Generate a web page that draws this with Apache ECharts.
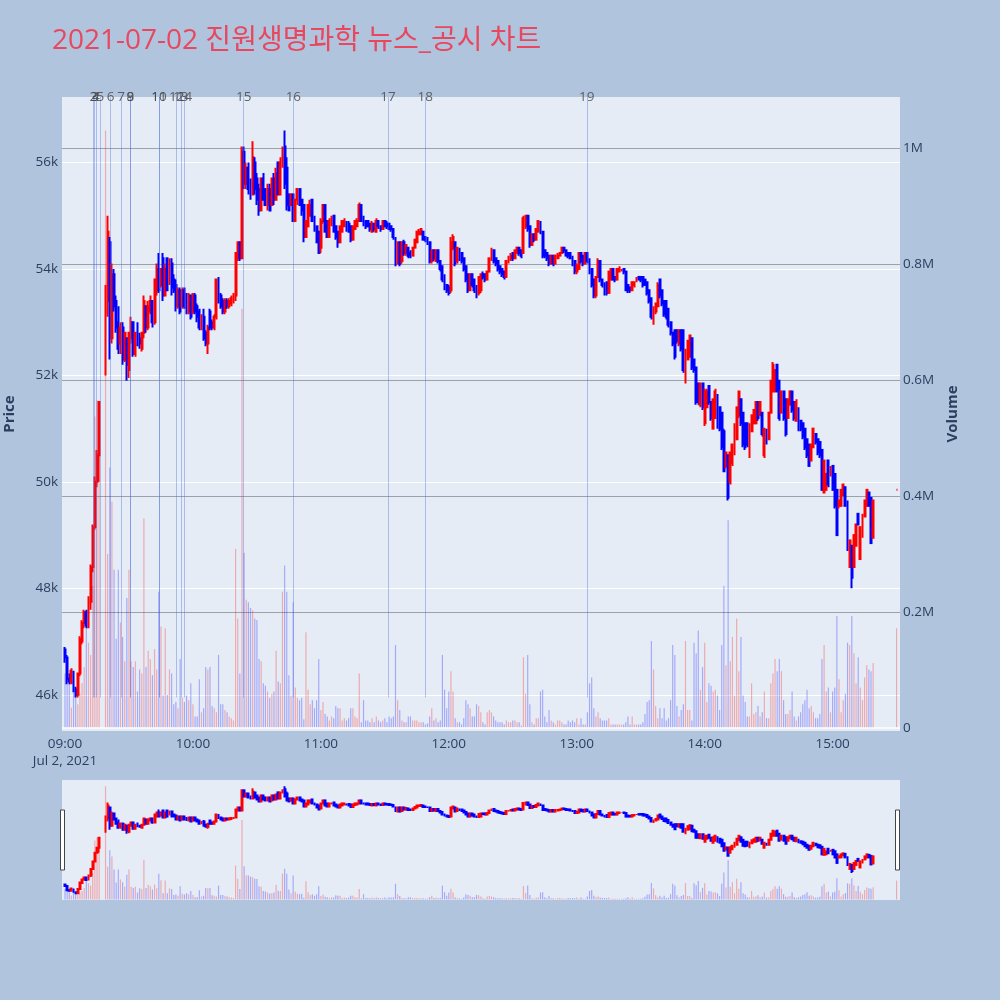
<!DOCTYPE html>
<html><head><meta charset="utf-8">
<script src="https://cdn.jsdelivr.net/npm/echarts@6/dist/echarts.min.js"></script>
<style>html,body{margin:0;padding:0;background:#B0C4DE}#c{width:1000px;height:1000px}</style>
</head><body><div id="c"></div>
<script>
const titleText = '2021-07-02 진원생명과학 뉴스_공시 차트';

// [open, close, low, high] per minute; null = no trade (VI)
const ohlc09 = [
[46850,46700,46600,46900],[46700,46300,46200,46750],[46300,46250,46200,46400],[46250,46450,46200,46500],[46450,46100,46050,46450],
[46100,46000,45950,46150],[46000,46400,45950,46400],[46400,47050,46350,47100],[47000,47350,46950,47400],[47350,47550,47250,47600],
[47550,47300,47250,47600],[47300,47800,47250,47850],[47750,48400,47600,48450],[48400,49150,48300,49200],[49150,50000,49100,50100],
[50000,50500,49900,50600],[50500,51500,50000,51500],null,null,[52100,53500,52000,53700],
[53400,54700,53100,55000],[54500,52700,52300,54600],[52700,53900,52600,54100],[53900,53300,53200,54000],[53400,52900,52800,53500],
[53000,52500,52400,53300],[52600,52900,52400,53000],[52900,52300,52200,53000],[52300,52800,52250,52800],[52700,52200,51900,52700],
[52100,52800,51950,52800],[52700,53000,52600,53100],[53000,52400,52350,53000],[52400,52800,52350,52800],[52900,52600,52550,53000],
[52700,52600,52500,52800],[52500,52800,52450,52800],[52800,53400,52700,53500],[53300,52900,52800,53300],[52900,53300,52850,53400],
[53200,53400,53150,53500],[53400,53000,52900,53400],[53000,53800,52950,53800],[53600,54000,53500,54100],[54000,53600,53550,54300],
[53700,54000,53650,54000],[54200,53500,53400,54300],[53500,54000,53500,54100],[54200,53600,53600,54200],[53700,54100,53700,54200],
[54100,53650,53500,54200],[53800,53600,53550,53900],[53700,53300,53200,53800],[53300,53600,53250,53650],[53600,53200,53150,53650],
[53300,53600,53250,53650],[53600,53300,53250,53650],[53500,53200,53150,53550],[53200,53500,53150,53550],[53500,53100,53050,53500]
];
const ohlc10 = [
[53200,53500,53150,53550],[53500,53200,53150,53550],[53300,53100,53000,53350],[53200,52900,52850,53250],[52900,53100,52850,53150],
[53100,52700,52650,53250],[52800,52600,52550,52850],[52600,52900,52400,52950],[53200,52900,52850,53250],[53000,52900,52850,53050],
[52900,53100,52850,53150],[53100,53800,53050,53800],[53800,53400,53350,53850],[53500,53300,53250,53550],[53400,53200,53150,53450],
[53200,53400,53150,53450],[53400,53300,53250,53450],[53300,53400,53250,53450],[53350,53450,53300,53500],[53400,53500,53350,53550],
[53500,54300,53400,54300],[54200,54500,54150,54500],[54500,54200,54150,54500],[54200,56200,54200,56300],[56200,55600,55500,56300],
[55600,55900,55500,56000],[55900,55500,55400,56000],[55600,55400,55300,55700],[55400,56100,55400,56400],[56000,55500,55400,56100],
[55700,55300,55200,55800],[55500,55100,55000,55600],[55100,55700,55100,55700],[55700,55300,55300,55800],[55500,55200,55200,55500],
[55200,55500,55100,55600],[55500,55100,55100,55600],[55200,55700,55200,55700],[55700,55300,55200,55800],[55300,55800,55300,55900],
[56000,55400,55400,56000],[55400,56000,55400,56100],[55900,56300,55900,56300],[56300,55600,55500,56600],[55900,55200,55100,56100],
[55400,55100,55100,55400],[55200,55400,55200,55400],[55400,54900,54900,55400],[54900,55300,54900,55300],[55300,55500,55200,55500],
[55500,55200,55200,55500],[55300,55100,55000,55300],[55200,54600,54500,55200],[54600,54900,54600,54900],[54800,55200,54800,55200],
[55000,55200,55000,55300],[55300,54900,54900,55300],[55000,54700,54700,55000],[54800,54500,54500,54800],[54700,54300,54300,54700]
];
const ohlc11 = [
[54400,54900,54300,54950],[54900,55200,54850,55200],[55200,54700,54700,55200],[54900,54600,54600,54900],[54600,54900,54600,54950],
[54800,55000,54800,55000],[55000,54700,54700,55000],[54800,54600,54550,54800],[54700,54500,54400,54700],[54500,54800,54500,54800],
[54700,54900,54700,54900],[54800,54900,54800,54950],[54900,54700,54700,54900],[54850,54700,54700,54900],[54800,54550,54500,54800],
[54550,54800,54550,54800],[54750,54900,54750,54900],[54800,54900,54800,54950],[54900,55200,54900,55250],[55200,54900,54900,55200],
[55000,54800,54800,55000],[54900,54800,54750,54900],[54900,54800,54800,54900],[54850,54750,54700,54850],[54700,54850,54700,54900],
[54850,54750,54700,54850],[54700,54900,54700,54950],[54900,54800,54750,54900],[54800,54750,54700,54800],[54750,54900,54750,54900],
[54900,54800,54800,54900],[54850,54800,54750,54900],[54850,54750,54750,54850],[54800,54750,54700,54800],[54750,54600,54550,54750],
[54600,54100,54050,54600],[54100,54500,54100,54500],[54500,54100,54050,54500],[54150,54500,54100,54500],[54500,54300,54250,54550],
[54300,54450,54250,54450],[54400,54250,54200,54400],[54300,54250,54200,54350],[54250,54400,54250,54400],[54400,54550,54400,54550],
[54500,54700,54500,54700],[54650,54700,54650,54750],[54650,54750,54650,54750],[54700,54550,54550,54700],[54600,54550,54500,54600],
[54600,54500,54450,54600],[54500,54150,54100,54500],[54150,54350,54100,54350],[54350,54200,54150,54350],[54150,54350,54150,54350],
[54350,54150,54100,54350],[54150,54000,53950,54150],[54050,53800,53750,54050],[53900,53650,53600,53900],[53700,53600,53550,53700]
];
const ohlc12 = [
[53650,53550,53500,53700],[53600,54500,53550,54600],[54400,54600,54350,54650],[54500,54100,54050,54500],[54150,54400,54100,54400],
[54400,54200,54150,54400],[54300,54150,54100,54300],[54200,54000,53950,54200],[54050,53800,53750,54050],[53900,53600,53550,53900],
[53600,53900,53600,53900],[53900,53700,53650,53900],[53800,53600,53550,53800],[53700,53500,53450,53700],[53550,53850,53500,53850],
[53600,53900,53550,53900],[53900,53850,53800,53950],[53900,53800,53750,53900],[53800,53950,53800,53950],[53950,54200,53950,54200],
[54200,54350,54150,54400],[54350,54150,54100,54350],[54200,54100,54050,54200],[54150,54000,53950,54150],[54050,53950,53900,54050],
[54000,53900,53850,54000],[53950,53850,53800,53950],[53850,54150,53850,54150],[54100,54250,54100,54250],[54200,54250,54150,54300],
[54300,54200,54150,54300],[54200,54350,54200,54350],[54300,54400,54300,54400],[54400,54300,54250,54400],[54350,54250,54200,54350],
[54300,54950,54300,55000],[54800,55000,54750,55000],[55000,54750,54700,55000],[54800,54450,54400,54800],[54450,54650,54450,54650],
[54650,54550,54500,54650],[54550,54750,54550,54750],[54700,54900,54700,54900],[54900,54700,54650,54900],[54700,54250,54200,54700],
[54350,54250,54200,54350],[54300,54200,54150,54300],[54250,54100,54050,54250],[54100,54250,54100,54250],[54250,54100,54050,54250],
[54100,54250,54100,54250],[54200,54250,54200,54300],[54250,54300,54250,54300],[54300,54400,54300,54400],[54400,54350,54300,54400],
[54350,54250,54250,54350],[54300,54250,54200,54300],[54300,54200,54200,54300],[54250,54100,54050,54250],[54150,53950,53900,54150]
];
const ohlc13 = [
[53950,54050,53900,54100],[54000,54300,54000,54300],[54300,54150,54100,54300],[54250,54100,54050,54250],[54100,54300,54100,54300],
[54300,54150,54100,54300],[54200,53950,53900,54200],[54000,53700,53650,54000],[53800,53500,53450,53800],[53500,53850,53450,53850],
[53850,54150,53850,54200],[54150,53800,53750,54150],[53800,53700,53650,53800],[53750,53550,53500,53750],[53750,53550,53500,53750],
[53550,53950,53550,53950],[53800,54000,53800,54000],[54000,53800,53800,54000],[53850,53800,53750,53850],[53800,54000,53800,54000],
[53950,54000,53950,54050],[53950,54000,53950,54000],[54000,53950,53900,54000],[53950,53600,53600,53950],[53700,53600,53550,53700],
[53650,53600,53550,53650],[53600,53750,53600,53750],[53700,53750,53650,53750],[53750,53850,53750,53850],[53850,53800,53800,53850],
[53850,53800,53750,53850],[53850,53700,53650,53850],[53800,53700,53700,53800],[53750,53550,53500,53750],[53600,53400,53350,53600],
[53450,53100,53050,53450],[53000,53300,52950,53300],[53200,53350,53150,53350],[53300,53700,53300,53750],[53800,53500,53450,53800],
[53600,53350,53300,53600],[53400,53150,53100,53400],[53400,53100,53050,53400],[53250,52950,52900,53250],[53000,52800,52750,53000],
[52800,52600,52550,52800],[52850,52350,52300,52850],[52850,52650,52600,52850],[52600,52850,52550,52850],[52850,52500,52450,52850],
[52850,52100,52050,52850],[52000,52500,51850,52500],[52300,52650,52300,52650],[52350,52750,52350,52750],[52700,52150,52100,52700],
[52300,52100,52050,52300],[52150,51500,51450,52150],[51850,51500,51450,51850],[51450,51850,51400,51850],[51850,51400,51350,51850]
];
const ohlc14 = [
[51100,51700,51050,51750],[51400,51700,51400,51750],[51800,51500,51450,51800],[51500,51200,51150,51500],[51000,51550,51000,51550],
[51200,51700,51200,51750],[51600,51000,51000,51650],[51400,51000,50950,51400],[51300,50650,50600,51300],[50950,50200,50200,51000],
[50300,50550,50250,50550],[50500,49700,49650,50500],[50000,50550,49950,50550],[50350,50700,50300,50700],[50500,51100,50500,51100],
[50800,51400,50800,51400],[51250,51700,51200,51700],[51550,51100,51050,51550],[51300,50700,50650,51300],[51100,50650,50600,51100],
[51100,50700,50650,51100],[50500,51100,50450,51100],[50950,51250,50950,51250],[51100,51350,51100,51350],[51100,51500,51100,51500],
[51500,51200,51150,51500],[51250,51500,51250,51500],[51300,50900,50850,51300],[50500,51000,50450,51000],[51000,50750,50700,51000],
[50800,51300,50800,51300],[51300,51900,51300,51900],[51700,52200,51700,52250],[51700,52100,51700,52100],[52200,51700,51700,52200],
[51900,51200,51150,51900],[51300,51700,51300,51700],[51700,51200,51150,51700],[51550,50900,50850,51550],[51200,51550,51200,51550],
[51450,51700,51450,51700],[51700,51350,51300,51700],[51500,51200,51150,51500],[51150,51500,51150,51550],[51400,51000,50950,51400],
[51150,51000,50950,51150],[51100,50850,50800,51100],[51000,50650,50600,51000],[50800,50500,50450,50800],[50700,50300,50300,50700],
[50400,50700,50400,50700],[50650,51000,50650,51000],[50900,50750,50700,50900],[50800,50550,50500,50800],[50750,50500,50450,50750],
[50600,49850,49850,50600],[49800,50400,49800,50400],[49850,50150,49850,50150],[50400,49950,49900,50400],[50100,50300,50100,50300]
];
const ohlc15 = [
[50300,49850,49850,50300],[50150,49550,49500,50150],[49850,49000,49000,49850],[49550,49650,49500,49650],[49550,49850,49550,49850],
[49750,49950,49750,49950],[49900,49550,49550,49900],[49650,48750,48700,49650],[48400,48900,48400,48900],[48800,48200,48000,48800],
[48400,49000,48400,49000],[48800,49200,48800,49200],[49400,49200,49200,49400],[48550,49150,48550,49150],[48950,49400,48950,49400],
[49350,49650,49350,49650],[49550,49850,49550,49850],[49800,49550,49550,49800],[49700,48850,48850,49700],[48950,49650,48950,49650]
];
const ohlcClose = [[49850,49850,49850,49850]]; // 15:30 closing auction

const vol09 = [94000,91000,77000,35000,70000,70000,41000,60000,77000,105000,
182000,147000,126000,245000,537000,565000,484000,null,null,1030000,
300000,449000,390000,273000,154000,273000,182000,157000,115000,224000,
273000,115000,105000,115000,63000,101000,94000,361000,105000,133000,
119000,91000,136000,101000,235000,175000,56000,172000,57000,101000,
94000,41000,45000,34000,119000,52000,45000,56000,48000,77000];
const vol10 = [41000,20000,20000,84000,27000,34000,105000,101000,105000,38000,
34000,27000,126000,41000,41000,31000,27000,20000,17000,13000,
309000,189000,94000,723000,302000,221000,217000,207000,203000,189000,
186000,119000,115000,77000,73000,63000,52000,59000,63000,133000,
80000,77000,235000,280000,235000,91000,56000,217000,70000,52000,
48000,52000,15000,165000,66000,41000,48000,34000,48000,119000];
const vol11 = [31000,45000,24000,20000,13000,20000,17000,38000,34000,34000,
13000,17000,13000,17000,34000,34000,20000,17000,94000,10000,
48000,13000,13000,10000,17000,10000,20000,13000,10000,13000,
17000,10000,20000,17000,20000,143000,48000,31000,13000,10000,
10000,20000,20000,13000,13000,13000,10000,10000,10000,6000,
8000,20000,34000,13000,17000,10000,13000,126000,66000,34000];
const vol12 = [63000,98000,63000,17000,10000,10000,6000,17000,48000,41000,
34000,20000,20000,41000,38000,27000,10000,6000,27000,31000,
27000,20000,13000,10000,10000,10000,6000,13000,10000,10000,
13000,13000,10000,10000,4000,122000,59000,126000,41000,10000,
6000,17000,17000,63000,66000,20000,10000,31000,13000,10000,
6000,13000,13000,10000,6000,6000,13000,10000,13000,10000];
const vol13 = [17000,6000,17000,6000,6000,27000,77000,87000,34000,20000,
27000,17000,13000,13000,13000,17000,6000,6000,6000,6000,
6000,6000,6000,10000,20000,6000,20000,6000,6000,6000,
6000,10000,24000,45000,48000,150000,101000,38000,17000,34000,
17000,34000,13000,17000,48000,143000,126000,38000,20000,31000,
41000,150000,31000,31000,13000,147000,129000,168000,66000,105000];
const vol14 = [147000,45000,77000,73000,63000,66000,56000,31000,143000,245000,
108000,358000,115000,157000,56000,189000,98000,157000,56000,45000,
20000,20000,77000,24000,27000,38000,20000,27000,63000,17000,
17000,77000,94000,119000,98000,119000,98000,48000,24000,24000,
31000,63000,20000,13000,20000,27000,41000,48000,66000,34000,
38000,27000,17000,17000,24000,119000,143000,63000,70000,27000];
const vol15 = [63000,70000,193000,84000,27000,48000,59000,147000,143000,193000,
129000,77000,122000,70000,48000,87000,108000,101000,98000,112000];
const volClose = [172000];

// news markers (minutes after 09:00) and their labels
const newsLabels = ['2','3','4','5','6','7','8','9','10','11','12','13','14','15','16','17','18','19'];
const newsMinutes = [13.3,13.9,14.5,16.6,21.4,26.3,30.6,30.6,44.1,44.1,52.4,54.3,56.0,83.8,107.1,151.5,168.9,244.7];

const hourTicks = [0,60,120,180,240,300,360];
const priceTicks = [46000,48000,50000,52000,54000,56000];
const volTicks = [0,200000,400000,600000,800000,1000000];

const xMin = -1.41, xMax = 391.6;
const priceMin = 45320, priceMax = 57230;
const volMin = -5172, volMax = 1087900;
const newsLow = 45950;

const FONT = '"Open Sans","Noto Sans CJK KR",sans-serif';
const AX = '#2a3f5f';
const FS = 13.5;

const blocks = [[ohlc09,vol09,0],[ohlc10,vol10,60],[ohlc11,vol11,120],[ohlc12,vol12,180],[ohlc13,vol13,240],[ohlc14,vol14,300],[ohlc15,vol15,360],[ohlcClose,volClose,390]];
const candleData = [], volData = [];
blocks.forEach(([rows, vols, start]) => {
  rows.forEach((r, i) => {
    if (!r) return;
    const m = start + i;
    candleData.push([m, r[0], r[1], r[2], r[3]]);
    const up = r[1] >= r[0];
    volData.push({value: [m, vols[i]], itemStyle: {color: up ? 'rgba(255,0,0,0.28)' : 'rgba(0,0,255,0.28)'}});
  });
});

const chart = echarts.init(document.getElementById('c'), null, {renderer: 'canvas', width: 1000, height: 1000});
const candleStyle = {color: '#FF0000', color0: '#0000FF', borderColor: '#FF0000', borderColor0: '#0000FF', borderColorDoji: '#FF0000', borderWidth: 2};

function hm(v) {
  const t = Math.round(v) + 540;
  const h = Math.floor(t / 60), mm = t % 60;
  return (h < 10 ? '0' : '') + h + ':' + (mm < 10 ? '0' : '') + mm;
}

chart.setOption({
  animation: false,
  backgroundColor: '#B0C4DE',
  title: {text: titleText, left: 47, top: 22, textStyle: {fontSize: 28, fontWeight: 'normal', color: '#E8485F', fontFamily: FONT}},
  grid: [
    {left: 62, right: 100, top: 97, bottom: 269, show: true, backgroundColor: '#E5ECF6', borderWidth: 0, containLabel: false, outerBoundsMode: 'none'},
    {left: 62, right: 100, top: 780, bottom: 100, show: true, backgroundColor: '#E5ECF6', borderWidth: 0, containLabel: false, outerBoundsMode: 'none'}
  ],
  xAxis: [
    {gridIndex: 0, type: 'value', min: xMin, max: xMax,
     axisLine: {show: false}, axisTick: {show: false, customValues: hourTicks}, splitLine: {show: false},
     axisLabel: {customValues: hourTicks, color: AX, fontSize: FS, fontFamily: FONT, margin: 5, lineHeight: 17,
       formatter: v => Math.round(v) === 0 ? hm(v) + '\nJul 2, 2021' : hm(v)}},
    {gridIndex: 1, type: 'value', min: xMin, max: xMax, show: false}
  ],
  yAxis: [
    {gridIndex: 0, type: 'value', min: priceMin, max: priceMax, position: 'left',
     axisLine: {show: false}, axisTick: {show: false, customValues: priceTicks},
     axisLabel: {customValues: priceTicks, formatter: v => (v / 1000) + 'k', color: AX, fontSize: FS, fontFamily: FONT, margin: 4},
     splitLine: {show: true, lineStyle: {color: '#ffffff', width: 1}},
     name: 'Price', nameLocation: 'middle', nameGap: 45, nameRotate: 90,
     nameTextStyle: {color: AX, fontSize: 15, fontWeight: 'bold', fontFamily: FONT}},
    {gridIndex: 0, type: 'value', min: volMin, max: volMax, position: 'right',
     axisLine: {show: false}, axisTick: {show: false, customValues: volTicks.slice(1)},
     axisLabel: {customValues: volTicks, formatter: v => v === 0 ? '0' : (v / 1e6) + 'M', color: AX, fontSize: FS, fontFamily: FONT, margin: 3},
     splitLine: {show: true, lineStyle: {color: '#9da2aa', width: 1.2}},
     name: 'Volume', nameLocation: 'middle', nameGap: 42, nameRotate: 90,
     nameTextStyle: {color: AX, fontSize: 15, fontWeight: 'bold', fontFamily: FONT}},
    {gridIndex: 1, type: 'value', min: priceMin, max: priceMax, show: false},
    {gridIndex: 1, type: 'value', min: volMin, max: volMax, show: false}
  ],
  series: [
    {type: 'bar', xAxisIndex: 0, yAxisIndex: 1, data: volData, barWidth: 1.2, z: 1,
     markLine: {silent: true, symbol: ['none', 'none'], label: {show: false}, lineStyle: {color: '#ffffff', width: 1.5, type: 'solid'},
       data: [{yAxis: 0}]}},
    {type: 'candlestick', xAxisIndex: 0, yAxisIndex: 0, data: candleData, encode: {x: 0, y: [1, 2, 3, 4]},
     barWidth: 1.4, itemStyle: candleStyle, z: 3,
     markLine: {silent: true, symbol: ['none', 'none'], label: {show: false}, z: 4,
       lineStyle: {color: 'rgba(70,105,230,0.38)', width: 1, type: 'solid'},
       data: newsMinutes.map(m => [{coord: [m, newsLow]}, {coord: [m, priceMax]}])}},
    {type: 'scatter', xAxisIndex: 0, yAxisIndex: 0, symbolSize: 0.1, itemStyle: {color: 'rgba(0,0,0,0)'}, clip: false, z: 5,
     data: newsMinutes.map((m, i) => ({name: newsLabels[i], value: [m, priceMax]})),
     label: {show: true, position: 'inside', formatter: '{b}', color: '#444', fontSize: FS, fontFamily: FONT}},
    {type: 'bar', xAxisIndex: 1, yAxisIndex: 3, data: volData, barWidth: 1.2, z: 1},
    {type: 'candlestick', xAxisIndex: 1, yAxisIndex: 2, data: candleData, encode: {x: 0, y: [1, 2, 3, 4]},
     barWidth: 1.4, itemStyle: candleStyle, z: 3}
  ],
  graphic: [
    {type: 'rect', shape: {x: 60.5, y: 810, width: 4, height: 60}, style: {fill: '#ffffff', stroke: '#444', lineWidth: 1}, z: 10},
    {type: 'rect', shape: {x: 895.5, y: 810, width: 4, height: 60}, style: {fill: '#ffffff', stroke: '#444', lineWidth: 1}, z: 10}
  ]
});
</script>
</body></html>
